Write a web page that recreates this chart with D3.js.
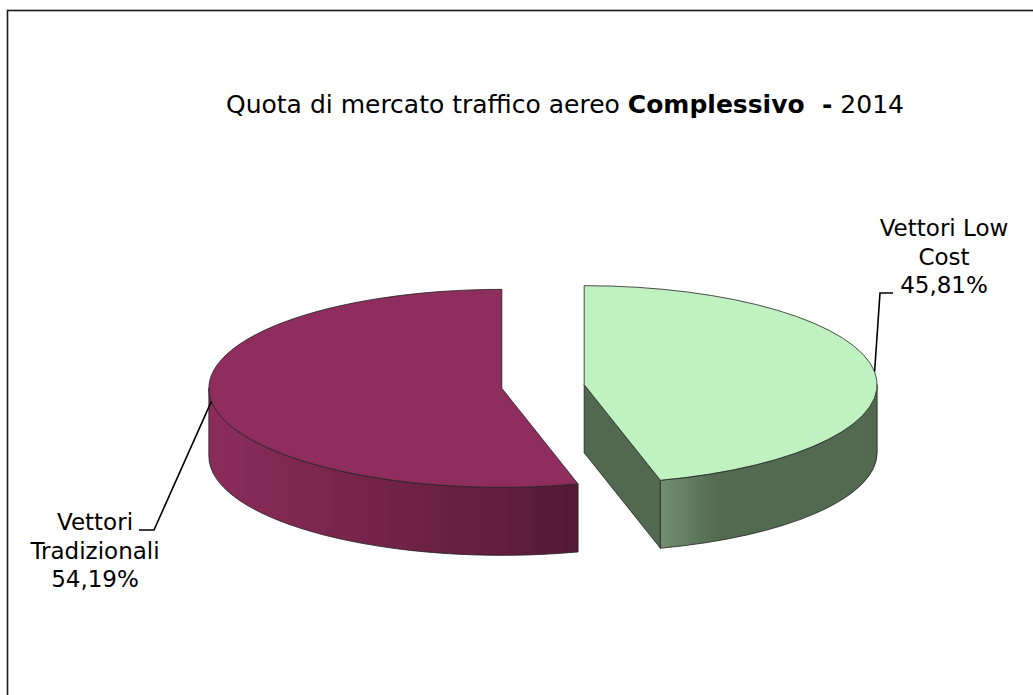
<!doctype html>
<html>
<head>
<meta charset="utf-8">
<style>
    body { margin: 0; background: #fff; }
    text { font-family: "DejaVu Sans", Verdana, sans-serif; fill: #000; }
    .edge { stroke: #222; stroke-width: 0.8; stroke-linejoin: round; }
    .leader { fill: none; stroke: #000; stroke-width: 1.6; }
</style>
<script src="https://d3js.org/d3.v7.min.js"></script>
</head>
<body>
<svg id="svg" width="1033" height="695"></svg>
<script>
// data
var categories = ["Vettori Low Cost", "Vettori Tradizionali"];
var values = [45.81, 54.19];
var titleParts = ["Quota di mercato traffico aereo ", "Complessivo  -", " 2014"];
var titleWeights = ["normal", "bold", "normal"];

// colours: top face, wall gradient start / mid / end
var topColors = ["#c0f2c1", "#8f2d5e"];
var wallColors = [["#728f70", "#536c51", "#516a4f"], ["#8b2c5b", "#742449", "#551a38"]];

var svg = d3.select("#svg"),
    cx = 543, cy = 386.5,
    rx = 293, ry = 99,
    depth = 68,
    explode = 41.5;

var itFormat = d3.formatLocale({decimal: ",", thousands: ".", grouping: [3], currency: ["", "€"]}).format(".2f");

// frame
svg.append("rect")
    .attr("x", 7.5).attr("y", 10.5)
    .attr("width", 1100).attr("height", 1000)
    .attr("fill", "none").attr("stroke", "#1a1a1a").attr("stroke-width", 1.6);

// title
var title = svg.append("text")
    .attr("x", 565).attr("y", 113)
    .attr("text-anchor", "middle")
    .style("font-size", "25px")
    .style("white-space", "pre");
title.selectAll("tspan")
    .data(titleParts)
    .enter().append("tspan")
    .style("font-weight", function(d, i) { return titleWeights[i]; })
    .text(function(d) { return d; });

var arcs = d3.pie().sort(null).value(function(d) { return d; })(values);

var defs = svg.append("defs");

function pt(c, a, dz) {
    return [c[0] + rx * Math.sin(a), c[1] - ry * Math.cos(a) + (dz || 0)];
}

arcs.forEach(function(d, i) {
    var mid = (d.startAngle + d.endAngle) / 2;
    var c = [cx + explode * Math.sin(mid), cy - explode * Math.cos(mid) * ry / rx];
    var g = svg.append("g");

    // cut faces
    if (Math.sin(d.startAngle) < -1e-6 || Math.sin(d.endAngle) > 1e-6) {
        var a = Math.sin(d.endAngle) > 1e-6 ? d.endAngle : d.startAngle;
        var p = pt(c, a);
        g.append("path")
            .attr("class", "edge")
            .attr("fill", wallColors[i][2])
            .attr("d", "M" + c + "L" + p + "L" + [p[0], p[1] + depth] + "L" + [c[0], c[1] + depth] + "Z");
    }

    // outer wall (front half of the ellipse)
    var a0 = Math.max(d.startAngle, Math.PI / 2),
        a1 = Math.min(d.endAngle, 3 * Math.PI / 2);
    if (a1 > a0) {
        var p0 = pt(c, a0), p1 = pt(c, a1);
        var gid = "wall" + i;
        var grad = defs.append("linearGradient")
            .attr("id", gid)
            .attr("gradientUnits", "userSpaceOnUse")
            .attr("x1", Math.min(p0[0], p1[0])).attr("x2", Math.max(p0[0], p1[0]))
            .attr("y1", 0).attr("y2", 0);
        var stops = i === 0 ? [0, 0.25, 1] : [0, 0.45, 1];
        stops.forEach(function(s, k) {
            grad.append("stop").attr("offset", s).attr("stop-color", wallColors[i][k]);
        });
        g.append("path")
            .attr("class", "edge")
            .attr("fill", "url(#" + gid + ")")
            .attr("d", "M" + p0 +
                "A" + rx + "," + ry + " 0 0 1 " + p1 +
                "L" + [p1[0], p1[1] + depth] +
                "A" + rx + "," + ry + " 0 0 0 " + [p0[0], p0[1] + depth] + "Z");
    }

    // top face
    var s = pt(c, d.startAngle), e = pt(c, d.endAngle);
    var large = d.endAngle - d.startAngle > Math.PI ? 1 : 0;
    g.append("path")
        .attr("class", "edge")
        .attr("fill", topColors[i])
        .attr("d", "M" + c + "L" + s + "A" + rx + "," + ry + " 0 " + large + " 1 " + e + "Z");

    d.anchor = pt(c, mid);
});

// labels
var labelPos = [[944, 228], [95, 522]];
var elbows = [[[880, 293], [893, 293]], [[154, 530], [139, 530]]];
var lineH = 28.5;

function wrap(str, maxW) {
    var t = svg.append("text").style("font-size", "23px");
    var words = str.split(" "), lines = [], cur = "";
    words.forEach(function(w) {
        var test = cur ? cur + " " + w : w;
        t.text(test);
        if (cur && t.node().getComputedTextLength() > maxW) { lines.push(cur); cur = w; }
        else cur = test;
    });
    lines.push(cur);
    t.remove();
    return lines;
}

arcs.forEach(function(d, i) {
    var lines = wrap(categories[i], 150).concat([itFormat(values[i]) + "%"]);
    var t = svg.append("text")
        .attr("text-anchor", "middle")
        .style("font-size", "23px");
    t.selectAll("tspan")
        .data(lines)
        .enter().append("tspan")
        .attr("x", labelPos[i][0])
        .attr("y", function(l, k) { return labelPos[i][1] + k * lineH + 8; })
        .text(function(l) { return l; });

    svg.append("path")
        .attr("class", "leader")
        .attr("d", d3.line()([d.anchor].concat(elbows[i])));
});
</script>
</body>
</html>
